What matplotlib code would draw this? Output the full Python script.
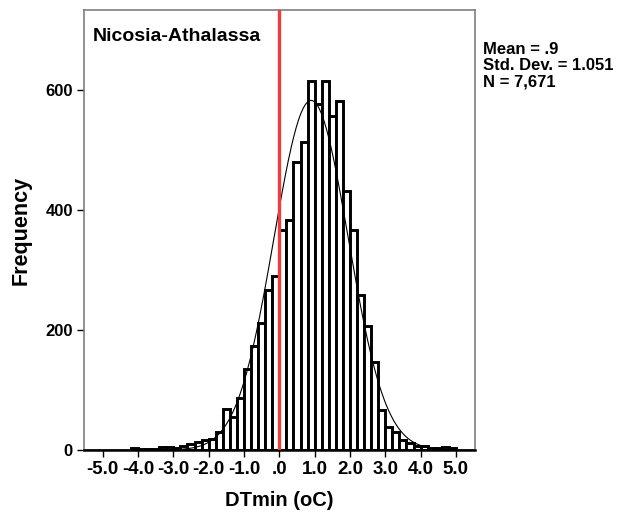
import numpy as np
import matplotlib
matplotlib.use("Agg")
import matplotlib.pyplot as plt

plt.rcParams['font.family'] = ['Liberation Sans', 'DejaVu Sans']

# histogram of DTmin, bins of 0.2 starting at -4.2
bin_start = -4.2
bin_width = 0.2
counts = [3, 1, 2, 2, 5, 5, 4, 7, 10, 13, 16, 19, 30, 68, 55, 86,
          135, 173, 212, 266, 290, 366, 383, 479, 513, 614,
          576, 614, 556, 582, 431, 367, 259, 206, 147, 66,
          38, 30, 17, 11, 7, 6, 4, 4, 5, 3]

mean = 0.9
std_dev = 1.051
n_total = 7671

station = "Nicosia-Athalassa"
x_ticks = [-5.0, -4.0, -3.0, -2.0, -1.0, 0.0, 1.0, 2.0, 3.0, 4.0, 5.0]
x_tick_labels = ["-5.0", "-4.0", "-3.0", "-2.0", "-1.0", ".0",
                 "1.0", "2.0", "3.0", "4.0", "5.0"]
y_ticks = [0, 200, 400, 600]

lefts = bin_start + bin_width * np.arange(len(counts))

fig = plt.figure(figsize=(6.2, 5.15), dpi=100)
ax = fig.add_axes([84 / 620, 65 / 515, 391 / 620, 440 / 515])

ax.bar(lefts, counts, width=bin_width, align='edge', facecolor='white',
       edgecolor='black', linewidth=2.1, zorder=2)

xs = np.linspace(-5.5, 5.5, 500)
curve = n_total * bin_width / (std_dev * np.sqrt(2 * np.pi)) * \
    np.exp(-0.5 * ((xs - mean) / std_dev) ** 2)
ax.plot(xs, curve, color='black', linewidth=0.8, zorder=3)

ax.axvline(0, color='#f03c3c', linewidth=2.4, zorder=4)

ax.set_xlim(-5.53, 5.54)
ax.set_ylim(0, 733)
ax.set_xticks(x_ticks)
ax.set_xticklabels(x_tick_labels, fontsize=13.5, fontweight='bold')
ax.set_yticks(y_ticks)
ax.set_yticklabels([str(v) for v in y_ticks], fontsize=12, fontweight='bold')
ax.tick_params(direction='out', length=5, width=1, colors='black', pad=3)

for side in ['left', 'right', 'top']:
    ax.spines[side].set_color('#7f7f7f')
    ax.spines[side].set_linewidth(1.2)
ax.spines['bottom'].set_color('black')
ax.spines['bottom'].set_linewidth(1.8)

ax.set_xlabel("DTmin (oC)", fontsize=14.5, fontweight='bold', labelpad=9)
ax.set_ylabel("Frequency", fontsize=15.5, fontweight='bold', labelpad=10)

ax.text(0.023, 0.96, station, transform=ax.transAxes, fontsize=14,
        fontweight='bold', va='top', ha='left')

stats = "Mean = .9\nStd. Dev. = 1.051\nN = 7,671"
fig.text(483 / 620, 1 - 42 / 515, stats, fontsize=12, va='top', ha='left',
         linespacing=1.12, fontweight='semibold')

fig.savefig("out.png", dpi=100)
